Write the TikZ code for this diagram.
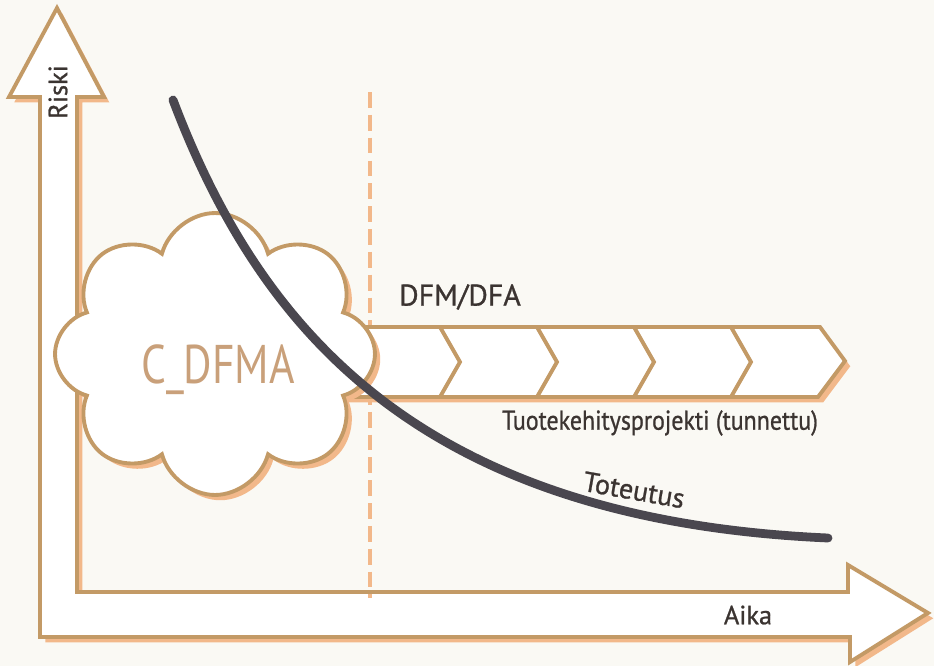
\documentclass[tikz,border=0pt]{standalone}
\usepackage{fontspec}
\setmainfont{PT Sans}
\newfontfamily\semifont{PT Sans}[FakeBold=0.9]
\usepackage{xcolor}
\usetikzlibrary{shapes.symbols,shadows}

\definecolor{paper}{HTML}{FAF9F4}
\definecolor{frameTan}{HTML}{C39A66}
\definecolor{rimPeach}{HTML}{F2B88A}
\definecolor{dfmaTan}{HTML}{C9A07A}
\definecolor{curveGray}{HTML}{4A474F}
\definecolor{inkGray}{HTML}{3B3431}

\begin{document}
\begin{tikzpicture}[x=0.02cm,y=-0.02cm,
    rim/.style={draw=frameTan, line width=2.2pt, fill=white, line join=miter,
      drop shadow={fill=rimPeach, opacity=1, shadow xshift=3pt, shadow yshift=-3pt}},
    labeltxt/.style={text=inkGray, inner sep=0pt}]
    \fill[paper] (0,0) rectangle (934,666);
    \useasboundingbox (0,0) rectangle (934,666);

    % Riski / Aika axes
    \draw[rim] (57,8) -- (104,97) -- (77,97) -- (77,592) -- (848,592) -- (848,565)
        -- (928,613) -- (850,662) -- (850,637) -- (40,637) -- (40,97) -- (9,97) -- cycle;

    % phase border
    \draw[rimPeach, line width=2.4pt, dash pattern=on 9pt off 4pt] (370,92) -- (370,598);

    % Product development project
    \draw[rim] (300,327) -- (820,327) -- (845,361) -- (818,397) -- (300,397) -- cycle;
    \foreach \k in {0,...,3}
        \draw[frameTan, line width=2.2pt] (440+97*\k,327) -- (460+97*\k,362) -- (440+97*\k,397);

    % C_DFMA cloud
    \node[cloud, cloud puffs=8, cloud puff arc=150, aspect=1.15, minimum width=6.4cm, minimum height=5.64cm, rim] (cloud) at (215,354) {};
    \node[text=dfmaTan, inner sep=0pt, font=\fontsize{31}{31}\selectfont, xscale=0.8] (cdfma) at (218,370) {C\_DFMA};

    % Toteutus curve
    \coordinate (riskHigh) at (173,100);
    \coordinate (riskLow) at (828,538);
    \draw[curveGray, line width=5pt, line cap=round] (riskHigh) .. controls (260,330) and (420,520) .. (riskLow);

    \node[labeltxt, rotate=90, font=\semifont\fontsize{15}{15}\selectfont] (riski) at (58,92) {Riski};
    \node[labeltxt, font=\semifont\fontsize{17}{17}\selectfont] (dfm) at (460,297) {DFM/DFA};
    \node[labeltxt, font=\semifont\fontsize{15.5}{15.5}\selectfont, xscale=0.88] (projekti) at (660,423) {Tuotekehitysprojekti (tunnettu)};
    \node[labeltxt, rotate=-10, font=\semifont\fontsize{16}{16}\selectfont] (toteutus) at (634,490) {Toteutus};
    \node[labeltxt, font=\semifont\fontsize{15}{15}\selectfont] (aika) at (748,615) {Aika};
\end{tikzpicture}
\end{document}
